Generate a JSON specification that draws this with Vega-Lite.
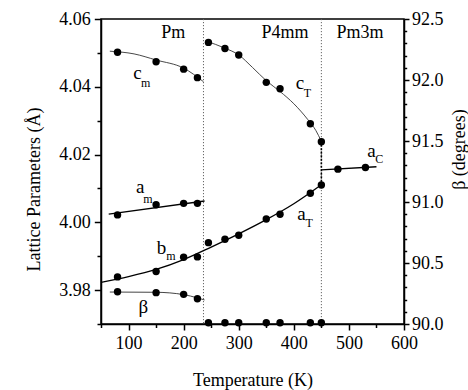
{
  "$schema": "https://vega.github.io/schema/vega-lite/v6.json",
  "width": 303,
  "height": 305,
  "autosize": {"type": "none"},
  "padding": {"left": 101, "top": 19, "right": 64, "bottom": 66},
  "background": "white",
  "config": {
    "view": {"stroke": "black", "strokeWidth": 1.5},
    "font": "Liberation Serif, Times New Roman, serif",
    "axis": {
      "labelFont": "Liberation Serif, Times New Roman, serif",
      "labelFontSize": 18,
      "labelColor": "black",
      "titleFont": "Liberation Serif, Times New Roman, serif",
      "titleFontSize": 18,
      "titleFontWeight": "normal",
      "titleColor": "black",
      "domainColor": "black",
      "domainWidth": 1.5,
      "tickColor": "black",
      "tickWidth": 1.5,
      "grid": false,
      "labelOverlap": false,
      "labelFlush": false
    }
  },
  "datasets": {
    "pts": [
      {"s": "cm", "T": 80, "v": 4.0502},
      {"s": "cm", "T": 150, "v": 4.0474},
      {"s": "cm", "T": 200, "v": 4.0452},
      {"s": "cm", "T": 225, "v": 4.0427},
      {"s": "cT", "T": 245, "v": 4.0531},
      {"s": "cT", "T": 275, "v": 4.0513},
      {"s": "cT", "T": 300, "v": 4.0494},
      {"s": "cT", "T": 350, "v": 4.0413},
      {"s": "cT", "T": 375, "v": 4.0394},
      {"s": "cT", "T": 430, "v": 4.0291},
      {"s": "cT", "T": 450, "v": 4.0238},
      {"s": "am", "T": 80, "v": 4.0022},
      {"s": "am", "T": 150, "v": 4.0052},
      {"s": "am", "T": 200, "v": 4.0056},
      {"s": "am", "T": 225, "v": 4.0056},
      {"s": "bm", "T": 80, "v": 3.9839},
      {"s": "bm", "T": 150, "v": 3.9855},
      {"s": "bm", "T": 200, "v": 3.9897},
      {"s": "bm", "T": 225, "v": 3.9898},
      {"s": "aT", "T": 245, "v": 3.9940},
      {"s": "aT", "T": 275, "v": 3.9950},
      {"s": "aT", "T": 300, "v": 3.9962},
      {"s": "aT", "T": 350, "v": 4.0010},
      {"s": "aT", "T": 375, "v": 4.0024},
      {"s": "aT", "T": 430, "v": 4.0086},
      {"s": "aT", "T": 450, "v": 4.0110},
      {"s": "aC", "T": 480, "v": 4.0157},
      {"s": "aC", "T": 530, "v": 4.0162}
    ],
    "curves": [
      {"c": "cm", "T": 66, "v": 4.0505},
      {"c": "cm", "T": 110, "v": 4.0497},
      {"c": "cm", "T": 150, "v": 4.0479},
      {"c": "cm", "T": 200, "v": 4.0455},
      {"c": "cm", "T": 236, "v": 4.0415},
      {"c": "cT", "T": 240, "v": 4.0535},
      {"c": "cT", "T": 275, "v": 4.0514},
      {"c": "cT", "T": 300, "v": 4.0494},
      {"c": "cT", "T": 325, "v": 4.0457},
      {"c": "cT", "T": 350, "v": 4.0418},
      {"c": "cT", "T": 375, "v": 4.0386},
      {"c": "cT", "T": 400, "v": 4.0350},
      {"c": "cT", "T": 425, "v": 4.0304},
      {"c": "cT", "T": 440, "v": 4.0271},
      {"c": "cT", "T": 450, "v": 4.0239},
      {"c": "am", "T": 64, "v": 4.0024},
      {"c": "am", "T": 238, "v": 4.0063},
      {"c": "bm", "T": 50, "v": 3.9823},
      {"c": "bm", "T": 100, "v": 3.9840},
      {"c": "bm", "T": 150, "v": 3.9861},
      {"c": "bm", "T": 200, "v": 3.9890},
      {"c": "bm", "T": 250, "v": 3.9927},
      {"c": "bm", "T": 300, "v": 3.9966},
      {"c": "bm", "T": 350, "v": 4.0008},
      {"c": "bm", "T": 400, "v": 4.0055},
      {"c": "bm", "T": 450, "v": 4.0111},
      {"c": "aC", "T": 450, "v": 4.0155},
      {"c": "aC", "T": 550, "v": 4.0164}
    ],
    "jump": [
      {"T": 450, "v": 4.0239, "v2": 4.0111}
    ],
    "phases": [
      {"T": 236},
      {"T": 450}
    ],
    "labels": [
      {"k": "phase", "t": "Pm", "T": 181, "v": 4.0559},
      {"k": "phase", "t": "P4mm", "T": 384, "v": 4.0559},
      {"k": "phase", "t": "Pm3m", "T": 520, "v": 4.0559},
      {"k": "main", "t": "c", "T": 116, "v": 4.0440},
      {"k": "sub", "t": "m", "T": 131, "v": 4.0412},
      {"k": "main", "t": "c", "T": 411, "v": 4.0410},
      {"k": "sub", "t": "T", "T": 424.5, "v": 4.0383},
      {"k": "main", "t": "a", "T": 121, "v": 4.0105},
      {"k": "sub", "t": "m", "T": 135, "v": 4.0070},
      {"k": "main", "t": "b", "T": 160, "v": 3.9923},
      {"k": "sub", "t": "m", "T": 177, "v": 3.9902},
      {"k": "main", "t": "β", "T": 127, "v": 3.9751},
      {"k": "main", "t": "a", "T": 414, "v": 4.0026},
      {"k": "sub", "t": "T", "T": 428, "v": 3.9999},
      {"k": "main", "t": "a", "T": 541, "v": 4.0210},
      {"k": "sub", "t": "C", "T": 555, "v": 4.0186}
    ],
    "beta": [
      {"T": 80, "b": 90.265},
      {"T": 150, "b": 90.257},
      {"T": 200, "b": 90.243},
      {"T": 225, "b": 90.207},
      {"T": 245, "b": 90.01},
      {"T": 275, "b": 90.01},
      {"T": 300, "b": 90.01},
      {"T": 350, "b": 90.01},
      {"T": 375, "b": 90.01},
      {"T": 430, "b": 90.01},
      {"T": 450, "b": 90.01}
    ],
    "betacurve": [
      {"T": 66, "b": 90.262},
      {"T": 150, "b": 90.26},
      {"T": 200, "b": 90.241},
      {"T": 225, "b": 90.214},
      {"T": 238, "b": 90.197}
    ]
  },
  "layer": [
    {
      "data": {"name": "phases"},
      "mark": {"type": "rule", "color": "#666666", "strokeWidth": 1, "strokeDash": [1.2, 1.8]},
      "encoding": {
        "x": {
          "field": "T",
          "type": "quantitative",
          "scale": {"domain": [50, 600], "nice": false, "zero": false},
          "axis": {
            "title": "Temperature (K)",
            "values": [50, 100, 150, 200, 250, 300, 350, 400, 450, 500, 550, 600],
            "labelExpr": "datum.value % 100 == 0 ? format(datum.value, 'd') : ''",
            "tickSize": {"condition": {"test": "datum.value % 100 == 0", "value": 6}, "value": 3.5},
            "labelPadding": 4,
            "titleY": 56,
            "titleBaseline": "middle"
          }
        }
      }
    },
    {
      "encoding": {
        "x": {
          "field": "T",
          "type": "quantitative",
          "scale": {"domain": [50, 600], "nice": false, "zero": false},
          "axis": {
            "title": "Temperature (K)",
            "values": [50, 100, 150, 200, 250, 300, 350, 400, 450, 500, 550, 600],
            "labelExpr": "datum.value % 100 == 0 ? format(datum.value, 'd') : ''",
            "tickSize": {"condition": {"test": "datum.value % 100 == 0", "value": 6}, "value": 3.5},
            "labelPadding": 4,
            "titleY": 56,
            "titleBaseline": "middle"
          }
        },
        "y": {
          "field": "v",
          "type": "quantitative",
          "scale": {"domain": [3.97, 4.06], "nice": false, "zero": false},
          "axis": {
            "title": "Lattice Parameters (Å)",
            "values": [3.97, 3.98, 3.99, 4.0, 4.01, 4.02, 4.03, 4.04, 4.05, 4.06],
            "labelExpr": "round(datum.value * 100) % 2 == 0 ? format(datum.value, '.2f') : ''",
            "tickSize": {"condition": {"test": "round(datum.value * 100) % 2 == 0", "value": 6.7}, "value": 4},
            "labelPadding": 4,
            "titleX": -67,
            "titleY": 170,
            "titleAngle": 270,
            "titleBaseline": "middle"
          }
        }
      },
      "layer": [
        {
          "data": {"name": "curves"},
          "transform": [{"filter": "datum.c == 'cm' || datum.c == 'cT'"}],
          "mark": {"type": "line", "color": "#333333", "strokeWidth": 0.9, "interpolate": "monotone"},
          "encoding": {"detail": {"field": "c"}}
        },
        {
          "data": {"name": "curves"},
          "transform": [{"filter": "datum.c == 'am' || datum.c == 'bm' || datum.c == 'aC'"}],
          "mark": {"type": "line", "color": "black", "strokeWidth": 1.3, "interpolate": "monotone"},
          "encoding": {"detail": {"field": "c"}}
        },
        {
          "data": {"name": "jump"},
          "mark": {"type": "rule", "color": "black", "strokeWidth": 1.6, "strokeDash": [2, 1.5]},
          "encoding": {"y2": {"field": "v2"}}
        },
        {
          "data": {"name": "pts"},
          "mark": {"type": "point", "shape": "circle", "filled": true, "color": "black", "opacity": 1, "size": 55}
        },
        {
          "data": {"name": "labels"},
          "transform": [{"filter": "datum.k == 'phase'"}],
          "mark": {"type": "text", "font": "Liberation Serif, Times New Roman, serif", "fontSize": 18, "color": "black", "align": "center", "baseline": "middle"},
          "encoding": {"text": {"field": "t"}}
        },
        {
          "data": {"name": "labels"},
          "transform": [{"filter": "datum.k == 'main'"}],
          "mark": {"type": "text", "font": "Liberation Serif, Times New Roman, serif", "fontSize": 19, "color": "black", "align": "center", "baseline": "middle"},
          "encoding": {"text": {"field": "t"}}
        },
        {
          "data": {"name": "labels"},
          "transform": [{"filter": "datum.k == 'sub'"}],
          "mark": {"type": "text", "font": "Liberation Serif, Times New Roman, serif", "fontSize": 12, "color": "black", "align": "center", "baseline": "middle"},
          "encoding": {"text": {"field": "t"}}
        }
      ]
    },
    {
      "encoding": {
        "x": {
          "field": "T",
          "type": "quantitative",
          "scale": {"domain": [50, 600], "nice": false, "zero": false},
          "axis": {
            "title": "Temperature (K)",
            "values": [50, 100, 150, 200, 250, 300, 350, 400, 450, 500, 550, 600],
            "labelExpr": "datum.value % 100 == 0 ? format(datum.value, 'd') : ''",
            "tickSize": {"condition": {"test": "datum.value % 100 == 0", "value": 6}, "value": 3.5},
            "labelPadding": 4,
            "titleY": 56,
            "titleBaseline": "middle"
          }
        },
        "y": {
          "field": "b",
          "type": "quantitative",
          "scale": {"domain": [90, 92.5], "nice": false, "zero": false},
          "axis": {
            "orient": "right",
            "title": "β (degrees)",
            "values": [90.0, 90.1, 90.2, 90.3, 90.4, 90.5, 90.6, 90.7, 90.8, 90.9, 91.0, 91.1, 91.2, 91.3, 91.4, 91.5, 91.6, 91.7, 91.8, 91.9, 92.0, 92.1, 92.2, 92.3, 92.4, 92.5],
            "labelExpr": "round(datum.value * 10) % 5 == 0 ? format(datum.value, '.1f') : ''",
            "tickSize": {"condition": {"test": "round(datum.value * 10) % 5 == 0", "value": 5}, "value": 2.7},
            "labelPadding": 2.5,
            "titleX": 55,
            "titleY": 130,
            "titleAngle": 270,
            "titleBaseline": "middle"
          }
        }
      },
      "layer": [
        {
          "data": {"name": "betacurve"},
          "mark": {"type": "line", "color": "#444444", "strokeWidth": 1, "interpolate": "monotone"}
        },
        {
          "data": {"name": "beta"},
          "mark": {"type": "point", "shape": "circle", "filled": true, "color": "black", "opacity": 1, "size": 55}
        }
      ]
    }
  ],
  "resolve": {"scale": {"y": "independent"}, "axis": {"y": "independent"}}
}
